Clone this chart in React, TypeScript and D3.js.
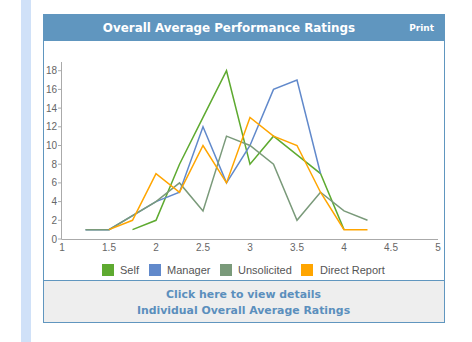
import React from "react";
import * as d3 from "d3";

const seriesNames = ["Self", "Manager", "Unsolicited", "Direct Report"];
const seriesColors = ["#5eaa30", "#6189cb", "#7a9a7a", "#ffa500"];

const selfX = [1.75, 2, 2.25, 2.5, 2.75, 3, 3.25, 3.5, 3.75, 4];
const selfY = [1, 2, 8, 13, 18, 8, 11, 9, 7, 1];
const managerX = [1.25, 1.5, 2, 2.25, 2.5, 2.75, 3, 3.25, 3.5, 3.75];
const managerY = [1, 1, 4, 5, 12, 6, 10, 16, 17, 7];
const unsolicitedX = [1.25, 1.5, 2, 2.25, 2.5, 2.75, 3, 3.25, 3.5, 3.75, 4, 4.25];
const unsolicitedY = [1, 1, 4, 6, 3, 11, 10, 8, 2, 5, 3, 2];
const directX = [1.5, 1.75, 2, 2.25, 2.5, 2.75, 3, 3.25, 3.5, 3.75, 4, 4.25];
const directY = [1, 2, 7, 5, 10, 6, 13, 11, 10, 5, 1, 1];

const xTicks = [1, 1.5, 2, 2.5, 3, 3.5, 4, 4.5, 5];
const yTicks = [0, 2, 4, 6, 8, 10, 12, 14, 16, 18];

const title = "Overall Average Performance Ratings";
const printLabel = "Print";
const footerLines = ["Click here to view details", "Individual Overall Average Ratings"];

export default function App() {
  const x = d3.scaleLinear().domain([1, 5]).range([62, 438]);
  const y = d3.scaleLinear().domain([0, 18]).range([239, 70.7]);
  const series = [
    { xs: selfX, ys: selfY },
    { xs: managerX, ys: managerY },
    { xs: unsolicitedX, ys: unsolicitedY },
    { xs: directX, ys: directY },
  ];
  const line = d3
    .line<[number, number]>()
    .x((d) => x(d[0]))
    .y((d) => y(d[1]));
  const fontSans = "'Liberation Sans', Arial, sans-serif";
  const fontBold = "'DejaVu Sans', Verdana, sans-serif";
  const legendPos = [
    { sq: 102, tx: 120 },
    { sq: 149, tx: 167 },
    { sq: 220, tx: 238 },
    { sq: 301, tx: 320 },
  ];
  return (
    <svg
      width={472}
      height={342}
      style={{ position: "absolute", left: 0, top: 0, background: "#fff" }}
    >
      <rect x={21} y={0} width={10} height={342} fill="#d0e1f8" />
      {/* panel */}
      <rect x={43.5} y={14.5} width={401} height={308} fill="#fff" stroke="#6096bf" strokeWidth={1} />
      <rect x={43} y={14} width={402} height={27} fill="#6096bf" />
      <text x={229} y={32} textAnchor="middle" fill="#fff" fontFamily={fontBold} fontWeight="bold" fontSize={11.9}>
        {title}
      </text>
      <text x={434} y={31} textAnchor="end" fill="#fff" fontFamily={fontBold} fontWeight="bold" fontSize={9}>
        {printLabel}
      </text>
      {/* footer */}
      <rect x={44} y={281} width={400} height={41} fill="#eeeeee" />
      <line x1={43} x2={445} y1={280.5} y2={280.5} stroke="#6096bf" />
      {footerLines.map((t, i) => (
        <text
          key={t}
          x={243.5}
          y={298 + i * 16}
          textAnchor="middle"
          fill="#5b8fbd"
          fontFamily={fontBold}
          fontWeight="bold"
          fontSize={10.9}
        >
          {t}
        </text>
      ))}
      {/* axes */}
      <line x1={61.5} x2={61.5} y1={62} y2={239} stroke="#aaa" />
      <line x1={61.5} x2={438} y1={239.5} y2={239.5} stroke="#aaa" />
      {yTicks.map((v) => (
        <g key={v}>
          <line x1={58} x2={62} y1={y(v)} y2={y(v)} stroke="#aaa" />
          <text x={57} y={y(v) + 3.5} textAnchor="end" fill="#666" fontFamily={fontSans} fontSize={10}>
            {v}
          </text>
        </g>
      ))}
      {xTicks.map((v) => (
        <text key={v} x={x(v)} y={251} textAnchor="middle" fill="#666" fontFamily={fontSans} fontSize={10}>
          {v}
        </text>
      ))}
      {/* lines */}
      {series.map((s, i) => (
        <path
          key={i}
          d={line(s.xs.map((xv, j) => [xv, s.ys[j]] as [number, number])) || ""}
          fill="none"
          stroke={seriesColors[i]}
          strokeWidth={1.5}
          strokeLinejoin="miter"
        />
      ))}
      {/* legend */}
      {seriesNames.map((n, i) => (
        <g key={n}>
          <rect x={legendPos[i].sq} y={264} width={12} height={12} fill={seriesColors[i]} />
          <text x={legendPos[i].tx} y={273.5} fill="#555" fontFamily={fontSans} fontSize={11}>
            {n}
          </text>
        </g>
      ))}
    </svg>
  );
}
